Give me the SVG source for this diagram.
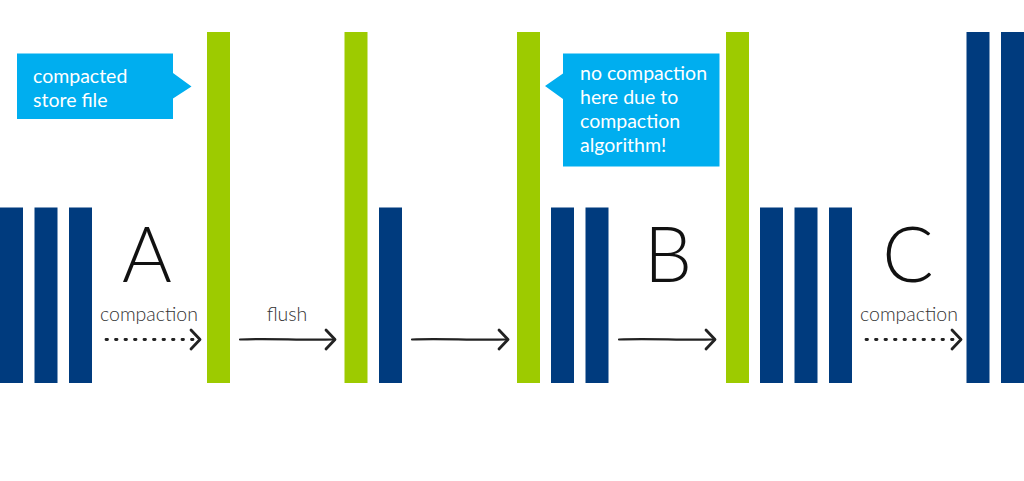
<svg xmlns="http://www.w3.org/2000/svg" width="1024" height="481" viewBox="0 0 1024 481">
<style>
.b{fill:#003b7e}
.g{fill:#9dcb00}
.c{fill:#00aeef}
.ct{font-family:Lato,"Open Sans",sans-serif;font-size:19.5px;fill:#ffffff}
.big{font-family:Lato,"Open Sans",sans-serif;font-weight:300;font-size:76px;fill:#111111;text-anchor:middle}
.lbl{font-family:Lato,"Open Sans",sans-serif;font-weight:300;font-size:19.5px;fill:#333333;text-anchor:middle}
.ln{stroke:#222222;stroke-width:2.2;fill:none;stroke-linecap:round}
.dot{stroke:#222222;stroke-width:2.8;fill:none;stroke-dasharray:1.5 8;stroke-linecap:round}
.chev{stroke:#222222;stroke-width:2.8;fill:none;stroke-linecap:round;stroke-linejoin:round}
</style>
<rect width="1024" height="481" fill="#ffffff"/>
<g id="stage0">
<rect class="b" x="0" y="207.5" width="23" height="175.5"/>
<rect class="b" x="34.5" y="207.5" width="23" height="175.5"/>
<rect class="b" x="69" y="207.5" width="23" height="175.5"/>
</g>
<g id="stage1">
<rect class="g" x="207" y="32" width="23" height="351"/>
</g>
<g id="stage2">
<rect class="g" x="344.5" y="32" width="23" height="351"/>
<rect class="b" x="379" y="207.5" width="23" height="175.5"/>
</g>
<g id="stage3">
<rect class="g" x="517" y="32" width="23" height="351"/>
<rect class="b" x="551" y="207.5" width="23" height="175.5"/>
<rect class="b" x="585.5" y="207.5" width="23" height="175.5"/>
</g>
<g id="stage4">
<rect class="g" x="726" y="32" width="23" height="351"/>
<rect class="b" x="760" y="207.5" width="23" height="175.5"/>
<rect class="b" x="794.5" y="207.5" width="23" height="175.5"/>
<rect class="b" x="829" y="207.5" width="23" height="175.5"/>
</g>
<g id="stage5">
<rect class="b" x="966.5" y="32" width="23" height="351"/>
<rect class="b" x="1001" y="32" width="23" height="351"/>
</g>
<g id="callout1">
<path class="c" d="M17 53.5H173V73L191.5 86.5L173 98.5V119H17Z"/>
<text class="ct" x="33" y="83">compacted</text>
<text class="ct" x="33" y="107">store file</text>
</g>
<g id="callout2">
<path class="c" d="M563 53.5H719.5V166.5H563V99L545 86L563 73.5Z"/>
<text class="ct" x="580" y="80">no compaction</text>
<text class="ct" x="580" y="104">here due to</text>
<text class="ct" x="580" y="128">compaction</text>
<text class="ct" x="580" y="152">algorithm!</text>
</g>
<g id="labels">
<text class="big" x="147" y="282">A</text>
<text class="big" x="668" y="282">B</text>
<text class="big" x="908" y="282">C</text>
<text class="lbl" x="149" y="321">compaction</text>
<text class="lbl" x="287" y="321">flush</text>
<text class="lbl" x="909" y="321">compaction</text>
</g>
<g id="connectors">
<path class="dot" d="M106 339.5H196"/>
<path class="chev" d="M191 330L200 339.5L191 349"/>
<path class="ln" d="M240 339.5C270 338 300 340.5 333 339.5"/>
<path class="chev" d="M326 330L335 339.5L326 349"/>
<path class="ln" d="M412 339.5C440 338 470 340.5 506 339.5"/>
<path class="chev" d="M499 330L508 339.5L499 349"/>
<path class="ln" d="M619 339.5C650 338 680 340.5 713 339.5"/>
<path class="chev" d="M706 330L715 339.5L706 349"/>
<path class="dot" d="M866 339.5H957"/>
<path class="chev" d="M952 330L961 339.5L952 349"/>
</g>
</svg>
